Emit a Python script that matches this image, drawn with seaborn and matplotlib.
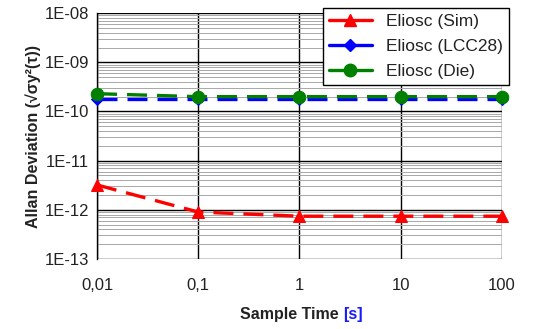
import numpy as np
import pandas as pd
import matplotlib
matplotlib.use("Agg")
import matplotlib.pyplot as plt
from matplotlib.lines import Line2D
from matplotlib.ticker import LogLocator, FixedLocator, NullFormatter
import seaborn as sns

sns.set_style("white")
plt.rcParams["font.family"] = ["Liberation Sans", "DejaVu Sans"]

# data
tau = [0.01, 0.1, 1, 10, 100]
tau_labels = ["0,01", "0,1", "1", "10", "100"]
sim = [3.2e-12, 9.0e-13, 7.4e-13, 7.4e-13, 7.4e-13]
lcc28 = [1.8e-10, 1.8e-10, 1.8e-10, 1.8e-10, 1.8e-10]
die = [2.3e-10, 2.0e-10, 2.0e-10, 2.0e-10, 2.0e-10]
series_names = ["Eliosc (Sim)", "Eliosc (LCC28)", "Eliosc (Die)"]
y_ticks = [1e-13, 1e-12, 1e-11, 1e-10, 1e-9, 1e-8]
y_labels = ["1E-13", "1E-12", "1E-11", "1E-10", "1E-09", "1E-08"]

df = pd.DataFrame({
    "tau": tau * 3,
    "adev": sim + lcc28 + die,
    "series": np.repeat(series_names, len(tau)),
})

colors = {"Eliosc (Sim)": "#ff0000", "Eliosc (LCC28)": "#0000ff", "Eliosc (Die)": "#008000"}
markers = {"Eliosc (Sim)": "^", "Eliosc (LCC28)": "D", "Eliosc (Die)": "o"}
msize = {"Eliosc (Sim)": 9, "Eliosc (LCC28)": 6, "Eliosc (Die)": 9}

fig = plt.figure(figsize=(5.45, 3.29), dpi=100)
ax = fig.add_axes([0.178, 0.213, 0.743, 0.747])

ax.set_xscale("log")
ax.set_yscale("log")
ax.set_xlim(0.01, 100)
ax.set_ylim(1e-13, 1e-8)

# grid: black majors, light grey minors on y only
ax.yaxis.set_minor_locator(LogLocator(base=10, subs=np.arange(2, 10)))
ax.yaxis.set_minor_formatter(NullFormatter())
ax.xaxis.set_minor_locator(FixedLocator([]))
ax.grid(which="minor", axis="y", color="#a8a8a8", lw=0.7)
ax.grid(which="major", axis="both", color="black", lw=1.0)
ax.set_axisbelow(True)

for name in series_names:
    sub = df[df["series"] == name]
    sns.lineplot(data=sub, x="tau", y="adev", ax=ax, color=colors[name],
                 marker=markers[name], markersize=msize[name],
                 markeredgecolor=colors[name], lw=2.4, legend=False,
                 dashes=False, zorder=3)
for ln in ax.get_lines():
    ln.set_dashes([6, 3])
    ln.set_clip_on(False)

ax.set_xticks(tau)
ax.set_xticklabels(tau_labels)
ax.set_yticks(y_ticks)
ax.set_yticklabels(y_labels)
ax.tick_params(axis="x", length=0, pad=14, labelsize=12, colors="#222222")
ax.tick_params(axis="y", which="major", direction="inout", length=7, width=1,
               color="black", labelsize=12, labelcolor="#222222", pad=2)
ax.tick_params(axis="y", which="minor", length=0)

for s in ["top", "right", "bottom"]:
    ax.spines[s].set_visible(False)
ax.spines["left"].set_color("black")
ax.spines["left"].set_linewidth(1.0)

ax.set_xlabel("")
ax.set_ylabel("Allan Deviation (√σy²(τ))", fontsize=11.5, fontweight="bold",
              color="#222222", labelpad=3)

t = fig.text(0.535, 0.022, "Sample Time ", fontsize=11.5, fontweight="bold",
             color="#222222", ha="center", va="bottom")
ax.annotate("[s]", xy=(1, 0), xycoords=t, va="bottom", ha="left",
            fontsize=11.5, fontweight="bold", color="#1a1aff")

handles = [Line2D([0], [0], color=colors[n], lw=2.4, marker=markers[n],
                  markersize=msize[n]) for n in series_names]
leg = ax.legend(handles, series_names, loc="upper right",
                bbox_to_anchor=(1.017, 1.02), borderaxespad=0,
                fontsize=12.5, frameon=True, fancybox=False, framealpha=1,
                edgecolor="black", handlelength=2.5, handletextpad=0.8,
                borderpad=0.35, labelspacing=0.55)
leg.get_frame().set_linewidth(1.0)
for txt in leg.get_texts():
    txt.set_color("#222222")

fig.savefig("out.png", dpi=100)
